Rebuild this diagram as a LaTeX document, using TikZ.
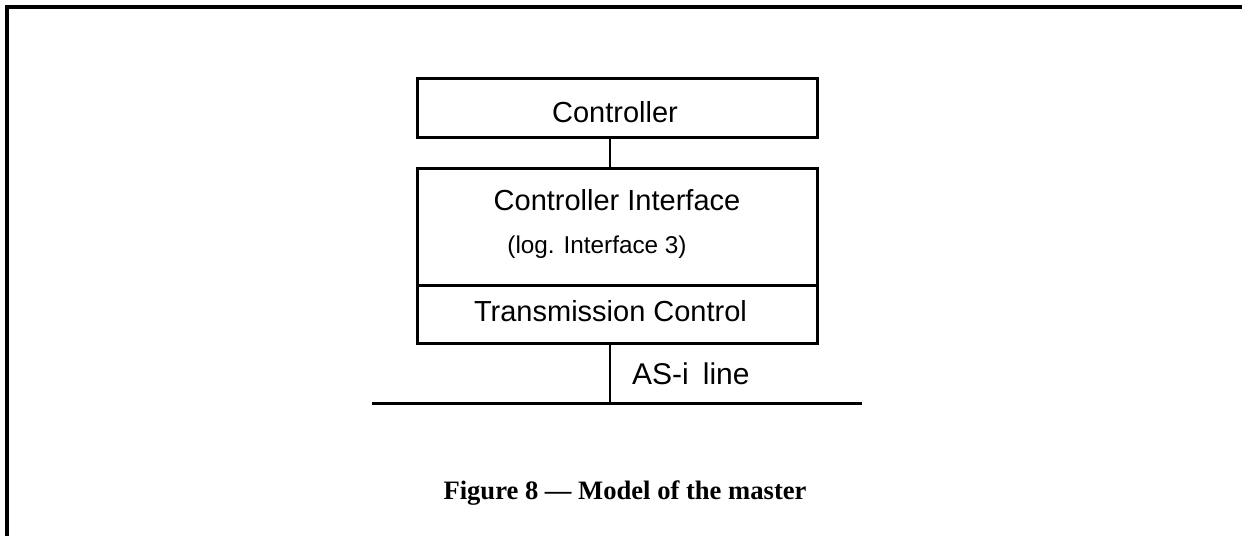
\documentclass[tikz,border=0pt]{standalone}
\usepackage{fontspec}
\setmainfont{Liberation Serif}
\newfontfamily\arial{Liberation Sans}
\tikzset{
  couche/.style={draw, line width=3pt, inner sep=0pt, minimum width=400pt},
  etiq/.style={anchor=base, inner sep=0pt, font=\arial\fontsize{29}{34}\selectfont},
  lien/.style={line width=2.5pt},
}
\begin{document}
\begin{tikzpicture}[x=1pt,y=-1pt]
        \useasboundingbox (0,0) rectangle (1242,536);

        % cadre de la figure
        \draw[line width=3.5pt] (1242,7) -- (7,7) -- (7,536);

        % dessin des couches du maitre
        \draw (617,107.5) node[couche, minimum height=59pt] (ctrl) {};
        \draw (617,226.5) node[couche, minimum height=117pt] (ctrlIf) {};
        \draw (617,314) node[couche, minimum height=58pt] (txCtrl) {};

        \draw (615,122) node[etiq] (ctrlTxt) {Controller};
        \draw (617,210) node[etiq] (ctrlIfTxt) {Controller Interface};
        \draw (597,253) node[etiq, font=\arial\fontsize{24.3}{28}\selectfont] (logTxt) {(log. Interface 3)};
        \draw (610.5,321) node[etiq] (txCtrlTxt) {Transmission Control};

        % ligne AS-i
        \draw (610,0) coordinate (axe);
        \draw (372,403) coordinate (busG);
        \draw (862,403) coordinate (busD);
        \draw[line width=3pt] (busG) -- (busD);
        \draw (632,384) node[etiq, anchor=base west, font=\arial\fontsize{30}{34}\selectfont] (busTxt) {AS-i\hspace{14pt}line};

        % liens entre les couches
        \draw[lien] (ctrl.south -| axe) -- (ctrlIf.north -| axe);
        \draw[lien] (txCtrl.south -| axe) -- (busG -| axe);

        % legende
        \draw (625,499) node[anchor=base, inner sep=0pt, font=\bfseries\fontsize{26.6}{30}\selectfont] (legende) {Figure 8 --- Model of the master};
\end{tikzpicture}
\end{document}
